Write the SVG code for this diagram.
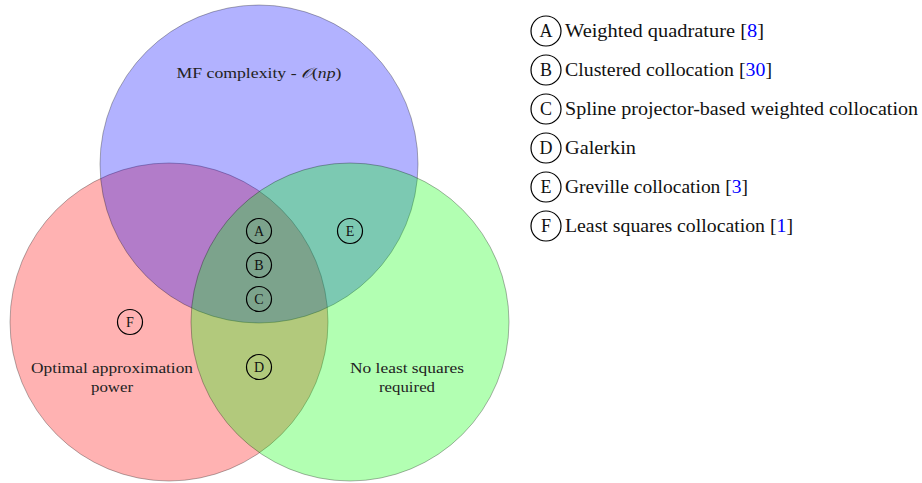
<svg xmlns="http://www.w3.org/2000/svg" width="922" height="483" viewBox="0 0 922 483">
<style>
.set{fill-opacity:0.3;stroke:#000;stroke-opacity:0.3;stroke-width:1}
.t{font-family:"Liberation Serif",serif;font-size:14.5px;fill:#222;text-anchor:middle}
.nd circle{fill:none;stroke:#000;stroke-width:1.2}
.nt{font-family:"Liberation Serif",serif;font-size:14px;fill:#111;text-anchor:middle}
.lc{fill:none;stroke:#000;stroke-width:1.2}
.k{font-family:"Liberation Serif",serif;font-size:18px;fill:#111;text-anchor:middle}
.d{font-family:"Liberation Serif",serif;font-size:18px;fill:#111}
.cite{fill:#0000ff}
</style>
<rect width="922" height="483" fill="#fff"/>
<g id="sets">
<circle id="set-red" class="set" cx="169" cy="322" r="159" fill="#ff0000"/>
<circle id="set-blue" class="set" cx="259" cy="164" r="159" fill="#0000ff"/>
<circle id="set-green" class="set" cx="350" cy="322" r="159" fill="#00ff00"/>
</g>
<g id="set-labels">
<text class="t" x="259" y="78" textLength="165" lengthAdjust="spacingAndGlyphs">MF complexity - <tspan font-style="italic">𝒪</tspan>(<tspan font-style="italic">np</tspan>)</text>
<text class="t" x="112" y="373" textLength="162" lengthAdjust="spacingAndGlyphs">Optimal approximation</text>
<text class="t" x="112" y="392" textLength="42" lengthAdjust="spacingAndGlyphs">power</text>
<text class="t" x="407" y="373" textLength="114" lengthAdjust="spacingAndGlyphs">No least squares</text>
<text class="t" x="407" y="392" textLength="56" lengthAdjust="spacingAndGlyphs">required</text>
</g>
<g id="node-A" class="nd"><circle cx="259" cy="231" r="12.5"/><text class="nt" x="259" y="236">A</text></g>
<g id="node-B" class="nd"><circle cx="259" cy="265" r="12.5"/><text class="nt" x="259" y="270">B</text></g>
<g id="node-C" class="nd"><circle cx="259" cy="299" r="12.5"/><text class="nt" x="259" y="304">C</text></g>
<g id="node-D" class="nd"><circle cx="259" cy="367" r="12.5"/><text class="nt" x="259" y="372">D</text></g>
<g id="node-E" class="nd"><circle cx="350" cy="231" r="12.5"/><text class="nt" x="350" y="236">E</text></g>
<g id="node-F" class="nd"><circle cx="130" cy="322" r="12.5"/><text class="nt" x="130" y="327">F</text></g>
<g id="connectors"></g>
<g id="legend">
<g id="leg-A"><circle class="lc" cx="546" cy="31" r="15"/><text class="k" x="546" y="37">A</text><text class="d" x="565" y="37" textLength="199" lengthAdjust="spacingAndGlyphs">Weighted quadrature [<tspan class="cite">8</tspan>]</text></g>
<g id="leg-B"><circle class="lc" cx="546" cy="70" r="15"/><text class="k" x="546" y="76">B</text><text class="d" x="565" y="76" textLength="207" lengthAdjust="spacingAndGlyphs">Clustered collocation [<tspan class="cite">30</tspan>]</text></g>
<g id="leg-C"><circle class="lc" cx="546" cy="109" r="15"/><text class="k" x="546" y="115">C</text><text class="d" x="565" y="115" textLength="353" lengthAdjust="spacingAndGlyphs">Spline projector-based weighted collocation</text></g>
<g id="leg-D"><circle class="lc" cx="546" cy="148" r="15"/><text class="k" x="546" y="154">D</text><text class="d" x="565" y="154" textLength="71" lengthAdjust="spacingAndGlyphs">Galerkin</text></g>
<g id="leg-E"><circle class="lc" cx="546" cy="187" r="15"/><text class="k" x="546" y="193">E</text><text class="d" x="565" y="193" textLength="183" lengthAdjust="spacingAndGlyphs">Greville collocation [<tspan class="cite">3</tspan>]</text></g>
<g id="leg-F"><circle class="lc" cx="546" cy="226" r="15"/><text class="k" x="546" y="232">F</text><text class="d" x="565" y="232" textLength="228" lengthAdjust="spacingAndGlyphs">Least squares collocation [<tspan class="cite">1</tspan>]</text></g>
</g>
</svg>
